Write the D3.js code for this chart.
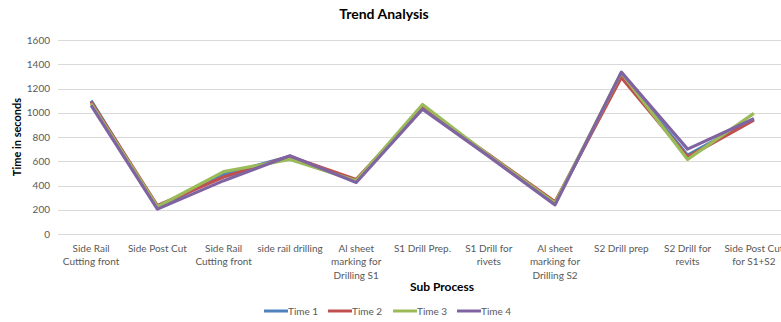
<!DOCTYPE html>
<html>
<head>
<meta charset="utf-8">
<script src="https://cdn.jsdelivr.net/npm/d3@7"></script>
<style>
  html, body { margin: 0; padding: 0; background: #fff; }
  svg { display: block; font-family: Lato, "Open Sans", sans-serif; }
</style>
</head>
<body>
<svg id="chart" width="781" height="322"></svg>
<script>
// Sub-process steps along the x axis (labels wrap onto several lines)
const categories = [
  "Side Rail|Cutting front",
  "Side Post Cut",
  "Side Rail |Cutting front",
  "side rail drilling",
  "Al sheet|marking for|Drilling S1",
  "S1 Drill Prep.",
  "S1 Drill for|rivets",
  "Al sheet|marking for|Drilling S2",
  "S2 Drill prep",
  "S2 Drill for|revits",
  "Side Post Cut|for S1+S2"
];

// Measured times (seconds) for each run
const time1 = [1100, 215, 490, 640, 435, 1040, 650, 250, 1315, 650, 950];
const time2 = [1090, 235, 470, 640, 450, 1040, 655, 265, 1290, 635, 940];
const time3 = [1075, 225, 515, 615, 440, 1068, 650, 255, 1330, 615, 995];
const time4 = [1060, 205, 440, 645, 425, 1030, 640, 240, 1335, 700, 950];

const seriesNames = ["Time 1", "Time 2", "Time 3", "Time 4"];
const seriesColors = ["#4F81BD", "#C0504D", "#9BBB59", "#8064A2"];
const yTicks = [0, 200, 400, 600, 800, 1000, 1200, 1400, 1600];

const series = [time1, time2, time3, time4].map((values, i) => ({
  name: seriesNames[i], color: seriesColors[i], values
}));

const svg = d3.select("#chart");
const plot = { left: 58, right: 787, top: 40, bottom: 234 };

const x = d3.scaleBand()
  .domain(d3.range(categories.length))
  .range([plot.left, plot.right]);

const y = d3.scaleLinear()
  .domain([0, 1600])
  .range([plot.bottom, plot.top]);

// Horizontal gridlines
svg.append("g")
  .selectAll("line")
  .data(yTicks)
  .join("line")
  .attr("x1", plot.left)
  .attr("x2", plot.right)
  .attr("y1", d => Math.round(y(d)) + 0.5)
  .attr("y2", d => Math.round(y(d)) + 0.5)
  .attr("stroke", "#d9d9d9")
  .attr("stroke-width", 1);

// Y axis tick labels
const yAxis = svg.append("g")
  .attr("transform", `translate(${plot.left - 8},0)`)
  .call(d3.axisLeft(y).tickValues(yTicks).tickFormat(d3.format("d")).tickSize(0).tickPadding(0));
yAxis.select(".domain").remove();
yAxis.selectAll("text")
  .attr("fill", "#595959")
  .attr("font-size", "10px")
  .attr("font-family", "Lato, 'Open Sans', sans-serif");

// X axis category labels, wrapped
const xLabels = svg.append("g")
  .selectAll("text")
  .data(categories)
  .join("text")
  .attr("x", (d, i) => x(i) + x.bandwidth() / 2)
  .attr("y", 252)
  .attr("text-anchor", "middle")
  .attr("fill", "#595959")
  .attr("font-size", "10px");
xLabels.each(function(d) {
  const t = d3.select(this);
  d.split("|").forEach((line, k) => {
    t.append("tspan")
      .attr("x", t.attr("x"))
      .attr("dy", k === 0 ? 0 : 13.3)
      .text(line.trim());
  });
});

// Series lines
const line = d3.line()
  .x((d, i) => x(i) + x.bandwidth() / 2)
  .y(d => y(d));

svg.append("g")
  .selectAll("path")
  .data(series)
  .join("path")
  .attr("d", d => line(d.values))
  .attr("fill", "none")
  .attr("stroke", d => d.color)
  .attr("stroke-width", 3.2)
  .attr("stroke-linejoin", "round");

// Title
svg.append("text")
  .attr("x", 384)
  .attr("y", 19)
  .attr("text-anchor", "middle")
  .attr("font-size", "14px")
  .attr("font-weight", "bold")
  .attr("fill", "#000")
  .text("Trend Analysis");

// Axis titles
svg.append("text")
  .attr("transform", `translate(21,137) rotate(-90)`)
  .attr("text-anchor", "middle")
  .attr("font-size", "11px")
  .attr("font-weight", "bold")
  .attr("fill", "#000")
  .text("Time in seconds");

svg.append("text")
  .attr("x", 442)
  .attr("y", 291)
  .attr("text-anchor", "middle")
  .attr("font-size", "12px")
  .attr("font-weight", "bold")
  .attr("fill", "#000")
  .text("Sub Process");

// Legend
const legendX = [264, 328, 393, 457];
const legend = svg.append("g")
  .selectAll("g")
  .data(series)
  .join("g")
  .attr("transform", (d, i) => `translate(${legendX[i]},311)`);
legend.append("line")
  .attr("x1", 0).attr("x2", 24)
  .attr("y1", 0).attr("y2", 0)
  .attr("stroke", d => d.color)
  .attr("stroke-width", 3);
legend.append("text")
  .attr("x", 24)
  .attr("y", 3.5)
  .attr("font-size", "10px")
  .attr("fill", "#595959")
  .text(d => d.name);
</script>
</body>
</html>
